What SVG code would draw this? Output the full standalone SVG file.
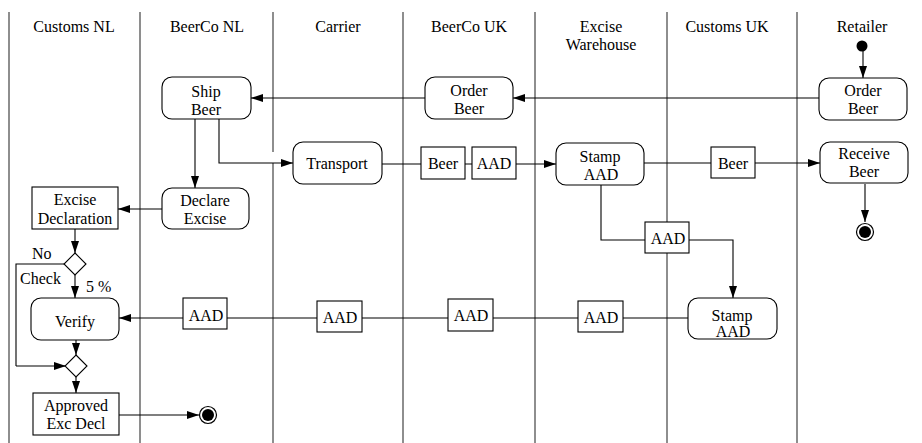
<svg xmlns="http://www.w3.org/2000/svg" width="922" height="443" viewBox="0 0 922 443">
  <style>
    text { font-family: "Liberation Serif", Tinos, "Times New Roman", Times, "Nimbus Roman", "Nimbus Roman No9 L", FreeSerif, "DejaVu Serif", "Noto Serif", Georgia, serif; font-size: 16px; fill: #000; }
    .lane { stroke: #444; stroke-width: 1.2; fill: none; }
    .act { fill: #fff; stroke: #000; stroke-width: 1.1; }
    .obj { fill: #fff; stroke: #000; stroke-width: 1.1; }
    .edge { stroke: #000; stroke-width: 1.1; fill: none; }
    .arr { marker-end: url(#head); }
    .mid { text-anchor: middle; }
  </style>
  <defs>
    <marker id="head" viewBox="0 0 12 8" refX="12" refY="4" markerWidth="12" markerHeight="8" markerUnits="userSpaceOnUse" orient="auto">
      <path d="M0,0 L12,4 L0,8 z" fill="#000"/>
    </marker>
  </defs>
  <rect width="922" height="443" fill="#fff"/>

  <!-- swimlanes -->
  <g id="lanes">
    <path class="lane" d="M9,12 V443 M140,12 V443 M273,12 V152 M273,163 V443 M403,12 V443 M535,12 V443 M667,12 V443 M797,12 V443"/>
    <text class="mid" x="74" y="32">Customs NL</text>
    <text class="mid" x="207" y="32">BeerCo NL</text>
    <text class="mid" x="338" y="32">Carrier</text>
    <text class="mid" x="469" y="32">BeerCo UK</text>
    <text class="mid" x="601" y="32">Excise</text>
    <text class="mid" x="601" y="50">Warehouse</text>
    <text class="mid" x="727" y="32">Customs UK</text>
    <text class="mid" x="862" y="32">Retailer</text>
  </g>

  <!-- connectors -->
  <g id="connectors">
    <path class="edge arr" d="M863,51 V78"/>
    <path class="edge arr" d="M819,98 H513"/>
    <path class="edge arr" d="M425,98 H251"/>
    <path class="edge arr" d="M195,119 V188"/>
    <path class="edge arr" d="M219,119 V163 H293"/>
    <path class="edge" d="M382,164 H421 M465,164 H472"/>
    <path class="edge arr" d="M516,164 H556"/>
    <path class="edge" d="M644,163 H711"/>
    <path class="edge arr" d="M755,163 H820"/>
    <path class="edge arr" d="M865,184 V222"/>
    <path class="edge" d="M601,185 V240 H645"/>
    <path class="edge arr" d="M689,240 H733 V298"/>
    <path class="edge" d="M688,318 H623 M578,318 H493 M448,318 H362 M317,318 H227"/>
    <path class="edge arr" d="M183,318 H119"/>
    <path class="edge arr" d="M162,209 H118"/>
    <path class="edge arr" d="M75,229 V253"/>
    <path class="edge" d="M65,264 H16 V366"/>
    <path class="edge arr" d="M16,366 H66"/>
    <path class="edge arr" d="M75,275 V298"/>
    <path class="edge arr" d="M76,340 V355"/>
    <path class="edge arr" d="M76,377 V393"/>
    <path class="edge arr" d="M119,415 H199"/>
    <text x="32" y="259">No</text>
    <text x="20" y="284">Check</text>
    <text x="86" y="292">5 %</text>
  </g>

  <!-- Retailer -->
  <g id="start"><circle cx="862" cy="46" r="5.5" fill="#000"/></g>
  <g id="order-beer-retailer">
    <rect class="act" x="819" y="78" width="88" height="42" rx="10"/>
    <text class="mid" x="863" y="96">Order</text>
    <text class="mid" x="863" y="114">Beer</text>
  </g>
  <g id="receive-beer">
    <rect class="act" x="820" y="142" width="88" height="41" rx="10"/>
    <text class="mid" x="864" y="159">Receive</text>
    <text class="mid" x="864" y="177">Beer</text>
  </g>
  <g id="end-retailer">
    <circle cx="865" cy="232" r="8.5" fill="#fff" stroke="#000" stroke-width="1.2"/>
    <circle cx="865" cy="232" r="6" fill="#000"/>
  </g>

  <!-- BeerCo UK -->
  <g id="order-beer-uk">
    <rect class="act" x="425" y="77" width="88" height="42" rx="10"/>
    <text class="mid" x="469" y="96">Order</text>
    <text class="mid" x="469" y="114">Beer</text>
  </g>
  <g id="beer-uk">
    <rect class="obj" x="421" y="147" width="44" height="32"/>
    <text class="mid" x="443" y="169">Beer</text>
  </g>
  <g id="aad-uk-1">
    <rect class="obj" x="472" y="147" width="44" height="32"/>
    <text class="mid" x="494" y="169">AAD</text>
  </g>
  <g id="aad-uk-2">
    <rect class="obj" x="448" y="299" width="45" height="32"/>
    <text class="mid" x="471" y="321">AAD</text>
  </g>

  <!-- BeerCo NL -->
  <g id="ship-beer">
    <rect class="act" x="162" y="77" width="89" height="42" rx="10"/>
    <text class="mid" x="206" y="97">Ship</text>
    <text class="mid" x="206" y="115">Beer</text>
  </g>
  <g id="declare-excise">
    <rect class="act" x="162" y="188" width="87" height="41" rx="10"/>
    <text class="mid" x="205" y="206">Declare</text>
    <text class="mid" x="205" y="224">Excise</text>
  </g>
  <g id="aad-nl">
    <rect class="obj" x="183" y="298" width="44" height="31"/>
    <text class="mid" x="206" y="321">AAD</text>
  </g>

  <!-- Carrier -->
  <g id="transport">
    <rect class="act" x="293" y="142" width="89" height="42" rx="10"/>
    <text class="mid" x="337" y="169">Transport</text>
  </g>
  <g id="aad-carrier">
    <rect class="obj" x="317" y="301" width="45" height="31"/>
    <text class="mid" x="340" y="323">AAD</text>
  </g>

  <!-- Excise Warehouse -->
  <g id="stamp-aad-warehouse">
    <rect class="act" x="556" y="143" width="88" height="42" rx="10"/>
    <text class="mid" x="600" y="162">Stamp</text>
    <text class="mid" x="601" y="180">AAD</text>
  </g>
  <g id="aad-warehouse">
    <rect class="obj" x="578" y="301" width="45" height="31"/>
    <text class="mid" x="601" y="323">AAD</text>
  </g>

  <!-- Customs UK -->
  <g id="beer-customs-uk">
    <rect class="obj" x="711" y="147" width="44" height="31"/>
    <text class="mid" x="733" y="169">Beer</text>
  </g>
  <g id="aad-customs-uk">
    <rect class="obj" x="645" y="222" width="44" height="31"/>
    <text class="mid" x="668" y="244">AAD</text>
  </g>
  <g id="stamp-aad-customs">
    <rect class="act" x="688" y="298" width="89" height="41" rx="10"/>
    <text class="mid" x="732" y="321">Stamp</text>
    <text class="mid" x="733" y="337">AAD</text>
  </g>

  <!-- Customs NL -->
  <g id="excise-declaration">
    <rect class="obj" x="32" y="187" width="86" height="42"/>
    <text class="mid" x="75" y="205">Excise</text>
    <text class="mid" x="75" y="224">Declaration</text>
  </g>
  <g id="check-decision">
    <path class="obj" d="M75,253 L86,264 L75,275 L64,264 Z"/>
  </g>
  <g id="verify">
    <rect class="act" x="31" y="298" width="88" height="42" rx="10"/>
    <text class="mid" x="75" y="327">Verify</text>
  </g>
  <g id="merge">
    <path class="obj" d="M76,355 L87,366 L76,377 L65,366 Z"/>
  </g>
  <g id="approved-exc-decl">
    <rect class="obj" x="33" y="393" width="86" height="42"/>
    <text class="mid" x="76" y="411">Approved</text>
    <text class="mid" x="76" y="429">Exc Decl</text>
  </g>
  <g id="end-customs">
    <circle cx="208" cy="415" r="8.5" fill="#fff" stroke="#000" stroke-width="1.2"/>
    <circle cx="208" cy="415" r="6" fill="#000"/>
  </g>
</svg>
